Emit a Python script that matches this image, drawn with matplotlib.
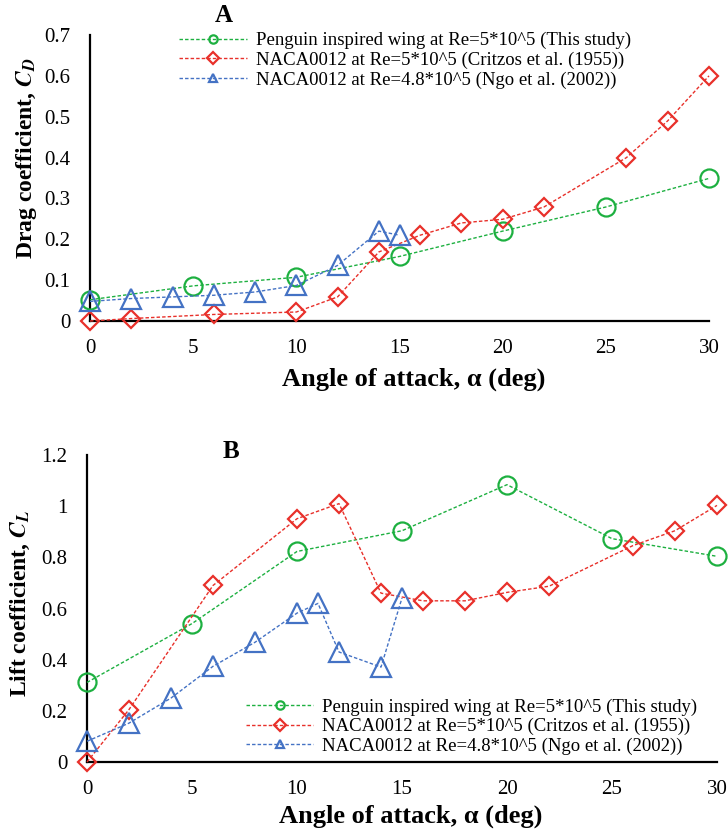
import matplotlib
matplotlib.use("Agg")
import matplotlib.pyplot as plt

plt.rcParams['font.family'] = ['Liberation Serif', 'DejaVu Serif']
plt.rcParams['mathtext.fontset'] = 'stix'

# ---- Data: Drag coefficient (A) ----
pen_x = [0, 5, 10, 15, 20, 25, 30]
pen_cd = [0.052, 0.086, 0.107, 0.158, 0.22, 0.279, 0.349]
crit_x = [0, 2, 6, 10, 12, 14, 16, 18, 20, 22, 26, 28, 30]
crit_cd = [0.0, 0.006, 0.016, 0.022, 0.059, 0.169, 0.21, 0.24, 0.249, 0.279, 0.40, 0.49, 0.60]
ngo_cd_x = [0, 2, 4, 6, 8, 10, 12, 14, 15]
ngo_cd = [0.048, 0.055, 0.059, 0.063, 0.071, 0.087, 0.136, 0.22, 0.21]

# ---- Data: Lift coefficient (B) ----
pen_cl = [0.311, 0.541, 0.823, 0.904, 1.084, 0.873, 0.804]
crit_cl = [0.0, 0.205, 0.69, 0.951, 1.01, 0.66, 0.63, 0.63, 0.663, 0.687, 0.846, 0.904, 1.003]
ngo_cl_x = [0, 2, 4, 6, 8, 10, 11, 12, 14, 15]
ngo_cl = [0.081, 0.152, 0.25, 0.374, 0.468, 0.582, 0.62, 0.43, 0.371, 0.641]

labels = ["Penguin inspired wing at Re=5*10^5 (This study)",
          "NACA0012 at Re=5*10^5 (Critzos et al. (1955))",
          "NACA0012 at Re=4.8*10^5 (Ngo et al. (2002))"]
colors = ["#1DB040", "#E8302A", "#4472C4"]
markers = ["o", "D", "^"]
msizes = [13, 9.5, 14]

fig = plt.figure(figsize=(7.28, 8.32), dpi=100)
axA = fig.add_axes([90/728, 1-321/832, 619/728, 286/832])
axB = fig.add_axes([87/728, 1-762/832, 630/728, 307/832])

def draw(ax, series, ylim, yticks, yticklabels, ylabel, ylab_xy, xlab_xy,
         legloc, legbbox):
    handles = []
    for (x, y), c, m, ms, lab in zip(series, colors, markers, msizes, labels):
        h, = ax.plot(x, y, linestyle=(0, (2.5, 1.5)), linewidth=1.0, color=c,
                     marker=m, markersize=ms, markerfacecolor='none',
                     markeredgecolor=c, markeredgewidth=1.6, clip_on=False,
                     label=lab, zorder=3)
        handles.append(h)
    ax.set_xlim(0, 30)
    ax.set_ylim(*ylim)
    ax.set_xticks([0, 5, 10, 15, 20, 25, 30])
    ax.set_yticks(yticks)
    ax.set_yticklabels(yticklabels)
    ax.tick_params(axis='y', length=0, labelsize=15, pad=14)
    ax.tick_params(axis='x', length=0, labelsize=15, pad=13)
    for s in ['top', 'right']:
        ax.spines[s].set_visible(False)
    for s in ['left', 'bottom']:
        ax.spines[s].set_linewidth(1.6)
        ax.spines[s].set_color('black')
    ax.set_xlabel("Angle of attack, α (deg)", fontsize=19, fontweight='bold')
    ax.xaxis.set_label_coords(*xlab_xy)
    ax.set_ylabel(ylabel, fontsize=17, fontweight='bold')
    ax.yaxis.set_label_coords(*ylab_xy)
    leg = ax.legend(handles=handles, loc=legloc, bbox_to_anchor=legbbox,
                    frameon=False, fontsize=13.5, handlelength=3.6,
                    handletextpad=0.48, labelspacing=0.12, borderaxespad=0,
                    borderpad=0)
    for lh in leg.legend_handles:
        lh.set_markersize(6)

draw(axA, [(pen_x, pen_cd), (crit_x, crit_cd), (ngo_cd_x, ngo_cd)],
     (0, 0.7), [0, 0.1, 0.2, 0.3, 0.4, 0.5, 0.6, 0.7],
     ["0", "0.1", "0.2", "0.3", "0.4", "0.5", "0.6", "0.7"],
     r"Drag coefficient, $\mathbfit{C}_\mathbfit{D}$", (-0.082, 0.57), (0.523, -0.164),
     'upper left', (0.144, 1.01))
draw(axB, [(pen_x, pen_cl), (crit_x, crit_cl), (ngo_cl_x, ngo_cl)],
     (0, 1.2), [0, 0.2, 0.4, 0.6, 0.8, 1.0, 1.2],
     ["0", "0.2", "0.4", "0.6", "0.8", "1", "1.2"],
     r"Lift coefficient, $\mathbfit{C}_\mathbfit{L}$", (-0.087, 0.518), (0.513, -0.14),
     'lower left', (0.252, 0.023))

fig.text(224/728, 1-15/832, "A", fontsize=18, fontweight='bold', ha='center', va='center')
fig.text(231/728, 1-452/832, "B", fontsize=18, fontweight='bold', ha='center', va='center')

fig.savefig("out.png", dpi=100)
